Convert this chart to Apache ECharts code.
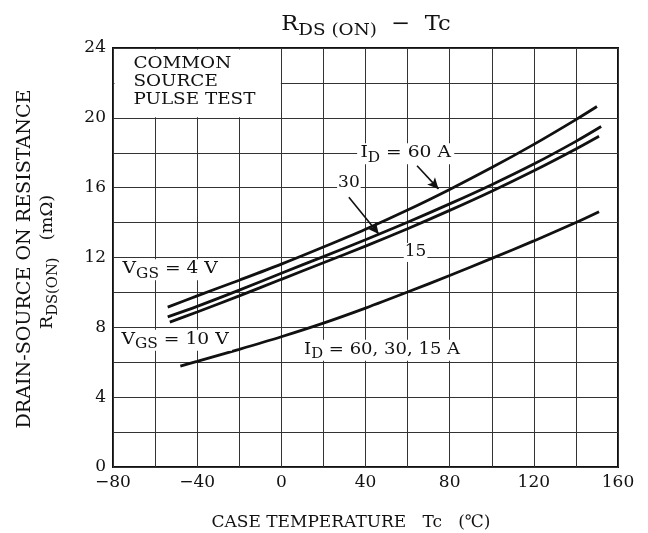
<!DOCTYPE html>
<html><head><meta charset="utf-8">
<script src="https://cdn.jsdelivr.net/npm/echarts@6/dist/echarts.min.js"></script>
<style>html,body{margin:0;padding:0;background:#fff}#c{width:648px;height:533px}</style>
</head><body><div id="c"></div><script>
const FONT = 'DejaVu Serif';
// tick labels
const xTickLabels = [-80, -40, 0, 40, 80, 120, 160];
const yTickLabels = [0, 4, 8, 12, 16, 20, 24];
// VGS = 4 V, ID = 60 A
const t_vgs4_id60 = [-54, -40, -20, 0, 20, 40, 60, 80, 100, 120, 140, 150];
const r_vgs4_id60 = [9.16, 9.8, 10.7, 11.62, 12.6, 13.62, 14.72, 15.9, 17.15, 18.48, 19.9, 20.65];
// VGS = 4 V, ID = 30 A
const t_vgs4_id30 = [-54, -40, -20, 0, 20, 40, 60, 80, 100, 120, 140, 152];
const r_vgs4_id30 = [8.6, 9.2, 10.13, 11.1, 12.05, 13.02, 14.02, 15.07, 16.17, 17.35, 18.65, 19.5];
// VGS = 4 V, ID = 15 A
const t_vgs4_id15 = [-53, -40, -20, 0, 20, 40, 60, 80, 100, 120, 140, 151];
const r_vgs4_id15 = [8.3, 8.88, 9.8, 10.75, 11.7, 12.65, 13.65, 14.7, 15.8, 16.97, 18.22, 18.95];
// VGS = 10 V, ID = 60, 30, 15 A
const t_vgs10 = [-48, -40, -20, 0, 20, 40, 60, 80, 100, 120, 140, 151];
const r_vgs10 = [5.78, 6.05, 6.74, 7.46, 8.24, 9.1, 10.02, 10.97, 11.95, 12.95, 14.0, 14.62];

const pairs = (t, r) => t.map((v, i) => [v, r[i]]);
const fmtNum = v => v < 0 ? '\u2212' + (-v) : String(v);

const chart = echarts.init(document.getElementById('c'));
const curveStyle = { color: '#111', width: 2.8 };
function curve(name, t, r) {
  return { name, type: 'line', data: pairs(t, r), smooth: 0.3, symbol: 'none',
           lineStyle: curveStyle, itemStyle: { color: '#111' }, z: 3, silent: true };
}
const arrowStyle = { color: '#111', width: 1.6, type: 'solid' };
const series = [
  curve('VGS4_ID60', t_vgs4_id60, r_vgs4_id60),
  curve('VGS4_ID30', t_vgs4_id30, r_vgs4_id30),
  curve('VGS4_ID15', t_vgs4_id15, r_vgs4_id15),
  curve('VGS10', t_vgs10, r_vgs10)
];
series[0].markLine = {
  silent: true, symbol: ['none', 'arrow'], symbolSize: [8, 11], label: { show: false },
  lineStyle: arrowStyle,
  data: [
    [{ coord: [64.5, 17.26] }, { coord: [74.7, 15.93] }],
    [{ coord: [32.1, 15.45] }, { coord: [46.3, 13.35] }]
  ]
};

chart.setOption({
  animation: false,
  backgroundColor: '#fff',
  grid: { left: 113, right: 30, top: 48, bottom: 66, show: true, borderColor: '#111', borderWidth: 2, backgroundColor: 'transparent' },
  xAxis: {
    type: 'value', min: -80, max: 160, interval: 20,
    axisLine: { show: false }, axisTick: { show: false },
    splitLine: { show: true, lineStyle: { color: '#333', width: 1 } },
    axisLabel: { fontFamily: FONT, fontSize: 17, color: '#111', margin: 7,
      formatter: v => xTickLabels.includes(v) ? fmtNum(v) : '' }
  },
  yAxis: {
    type: 'value', min: 0, max: 24, interval: 2,
    axisLine: { show: false }, axisTick: { show: false },
    splitLine: { show: true, lineStyle: { color: '#333', width: 1 } },
    axisLabel: { fontFamily: FONT, fontSize: 17, color: '#111', margin: 7,
      formatter: v => yTickLabels.includes(v) ? String(v) : '' }
  },
  series
});

const P = (x, y) => chart.convertToPixel({ gridIndex: 0 }, [x, y]);
const base = { fontFamily: FONT, fontSize: 17, lineHeight: 19, verticalAlign: 'top', fill: '#111' };
const sub = { fontFamily: FONT, fontSize: 14, lineHeight: 15, verticalAlign: 'top', padding: [7, 0, 0, 0], fill: '#111' };
function label(x, y, text, align, sx, extra) {
  const p = P(x, y);
  return { type: 'text', x: p[0], y: p[1], z: 50, scaleX: sx || 1,
    style: Object.assign({ text, rich: { b: base, s: sub }, align: align || 'center', verticalAlign: 'middle',
      backgroundColor: '#fff', padding: [1, 3, 1, 3] }, extra || {}) };
}
const tl = P(-80, 24), br = P(0, 20);
const graphics = [
  { type: 'rect', z: 40, shape: { x: tl[0] + 1.5, y: tl[1] + 1.5, width: br[0] - tl[0] - 2, height: br[1] - tl[1] - 2 },
    style: { fill: '#fff' } },
  { type: 'text', z: 50, x: P(-70.3, 24)[0], y: 55, scaleX: 1.08,
    style: { text: 'COMMON\nSOURCE\nPULSE TEST', fontFamily: FONT, fontSize: 17, lineHeight: 18, fill: '#111', align: 'left', verticalAlign: 'top' } },
  label(59.1, 17.94, '{b|I}{s|D}{b| = 60 A}', 'center', 1.1),
  label(32.1, 16.23, '{b|30}', 'center', 1, { padding: [0, 1, 0, 1] }),
  label(63.8, 12.29, '{b|15}', 'center', 1, { padding: [0, 1, 0, 1] }),
  label(-77, 11.3, '{b|V}{s|GS}{b| = 4 V}', 'left', 1.1),
  label(-77.5, 7.26, '{b|V}{s|GS}{b| = 10 V}', 'left', 1.1),
  label(9.3, 6.69, '{b|I}{s|D}{b| = 60, 30, 15 A}', 'left', 1.06),
  // title
  { type: 'text', z: 50, x: 366, y: 26, scaleX: 1.08,
    style: { text: '{r|R}{t|DS (ON)}{r|  \u2212  Tc}', align: 'center', verticalAlign: 'middle',
      rich: { r: { fontFamily: FONT, fontSize: 21, lineHeight: 24, verticalAlign: 'top', fill: '#111' },
              t: { fontFamily: FONT, fontSize: 17, lineHeight: 18, verticalAlign: 'top', padding: [8, 0, 0, 0], fill: '#111' } } } },
  // x axis name
  { type: 'text', z: 50, x: 351, y: 523,
    style: { text: 'CASE TEMPERATURE   Tc   (\u2103)', fontFamily: FONT, fontSize: 17, fill: '#111', align: 'center', verticalAlign: 'middle' } },
  // y axis name
  { type: 'text', z: 50, x: 25, y: 259, rotation: Math.PI / 2, scaleX: 1.06,
    style: { text: 'DRAIN-SOURCE ON RESISTANCE', fontFamily: FONT, fontSize: 18, fill: '#111', align: 'center', verticalAlign: 'middle' } },
  { type: 'text', z: 50, x: 49, y: 262, rotation: Math.PI / 2, scaleX: 1.05,
    style: { text: '{b|R}{s|DS(ON)}{b|   (m\u03A9)}', align: 'center', verticalAlign: 'middle',
      rich: { b: Object.assign({}, base, { fontSize: 17 }), s: sub } } }
];
chart.setOption({ graphic: graphics });
</script></body></html>
